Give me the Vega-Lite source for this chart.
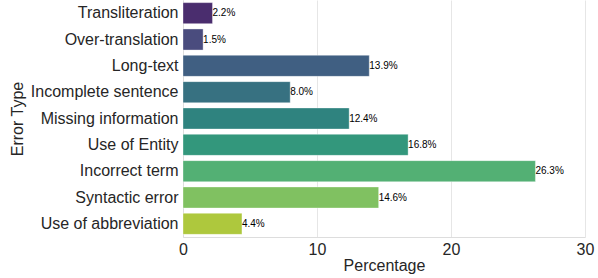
{
  "$schema": "https://vega.github.io/schema/vega-lite/v6.json",
  "width": 402,
  "height": 237,
  "autosize": {"type": "none"},
  "padding": {"left": 183, "top": 0, "right": 13, "bottom": 41},
  "background": "white",
  "config": {
    "view": {"stroke": null},
    "font": "Liberation Sans",
    "axis": {"labelFont": "Liberation Sans", "titleFont": "Liberation Sans", "labelColor": "#262626", "titleColor": "#262626", "titleFontWeight": "normal", "labelFontSize": 16, "titleFontSize": 16, "domainColor": "#dddddd", "gridColor": "#e6e6e6", "ticks": false}
  },
  "data": {
    "values": [
      {"type": "Transliteration", "pct": 2.2, "label": "2.2%"},
      {"type": "Over-translation", "pct": 1.5, "label": "1.5%"},
      {"type": "Long-text", "pct": 13.9, "label": "13.9%"},
      {"type": "Incomplete sentence", "pct": 8.0, "label": "8.0%"},
      {"type": "Missing information", "pct": 12.4, "label": "12.4%"},
      {"type": "Use of Entity", "pct": 16.8, "label": "16.8%"},
      {"type": "Incorrect term", "pct": 26.3, "label": "26.3%"},
      {"type": "Syntactic error", "pct": 14.6, "label": "14.6%"},
      {"type": "Use of abbreviation", "pct": 4.4, "label": "4.4%"}
    ]
  },
  "encoding": {
    "y": {
      "field": "type", "type": "nominal", "sort": null,
      "scale": {"paddingInner": 0.2, "paddingOuter": 0.1},
      "axis": {"title": "Error Type", "labelPadding": 5, "titlePadding": 5, "grid": false, "domain": true}
    },
    "x": {
      "field": "pct", "type": "quantitative",
      "scale": {"domain": [0, 30], "nice": false},
      "axis": {"title": "Percentage", "values": [0, 10, 20, 30], "labelPadding": 4, "titlePadding": 0, "grid": true, "domain": true, "labelFlush": false}
    }
  },
  "layer": [
    {
      "mark": {"type": "bar", "stroke": "white", "strokeOpacity": 0.35, "strokeWidth": 1},
      "encoding": {
        "color": {
          "field": "type", "type": "nominal", "sort": null, "legend": null,
          "scale": {
            "domain": ["Transliteration", "Over-translation", "Long-text", "Incomplete sentence", "Missing information", "Use of Entity", "Incorrect term", "Syntactic error", "Use of abbreviation"],
            "range": ["#4a2d6e", "#4a4c7e", "#405f82", "#377181", "#2f837f", "#33977c", "#53b074", "#80c161", "#aec83d"]
          }
        }
      }
    },
    {
      "mark": {"type": "text", "align": "left", "baseline": "middle", "dx": 0, "fontSize": 10, "color": "black", "font": "Liberation Sans"},
      "encoding": {
        "text": {"field": "label", "type": "nominal"}
      }
    }
  ]
}
